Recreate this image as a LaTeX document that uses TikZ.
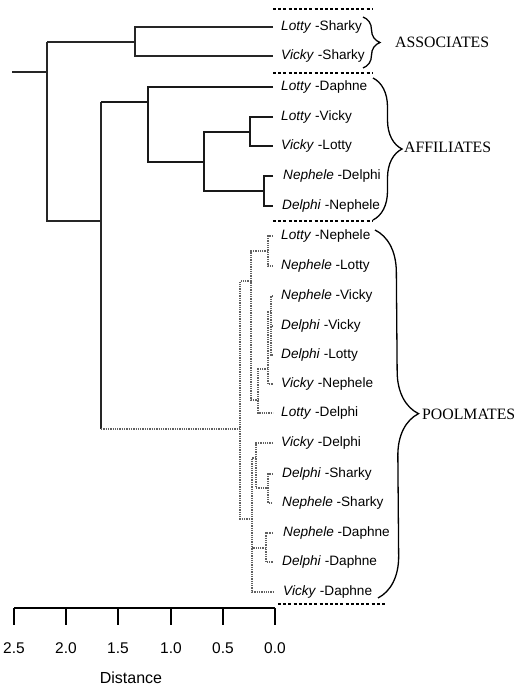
\documentclass[tikz,border=0pt]{standalone}
\usepackage{fontspec}
\setmainfont{Liberation Serif}
\newfontfamily\labfont{Liberation Sans}
\usetikzlibrary{decorations.pathreplacing}
\begin{document}
\begin{tikzpicture}[x=1pt,y=-1pt,
  rootline/.style={line width=1.3pt, black!85},
  assocline/.style={line width=2pt, black!85},
  affline/.style={line width=2.6pt, black!90},
  poolline/.style={line width=1.3pt, black!62, densely dotted},
  sepline/.style={line width=1.1pt, black, dash pattern=on 3pt off 2.2pt},
  pair/.style={anchor=west, inner sep=0pt, font=\labfont\fontsize{13.6}{15}\selectfont},
  grouplab/.style={anchor=west, inner sep=0pt, font=\fontsize{15.8}{18}\selectfont},
  bracedeco/.style={decorate, decoration={brace, amplitude=#1}, line width=1.3pt},
  axtick/.style={line width=1.3pt},
  ticklab/.style={inner sep=0pt, font=\labfont\fontsize{15.5}{17}\selectfont}
]
\useasboundingbox (0,0) rectangle (521,687);

% leaf ends
\coordinate (t1) at (273,27);
\coordinate (t2) at (273,56);
\coordinate (t3) at (273,87);
\coordinate (t4) at (273,117);
\coordinate (t5) at (273,146);
\coordinate (t6) at (273,176);
\coordinate (t7) at (273,206);
\coordinate (t8) at (273,236);
\coordinate (t9) at (273,266);
\coordinate (t10) at (273,296);
\coordinate (t11) at (273,326);
\coordinate (t12) at (273,355);
\coordinate (t13) at (273,384);
\coordinate (t14) at (273,413);
\coordinate (t15) at (273,443);
\coordinate (t16) at (273,474);
\coordinate (t17) at (273,503);
\coordinate (t18) at (273,533);
\coordinate (t19) at (273,562);
\coordinate (t20) at (273,592);

% labels
\node[pair] (l1) at (281,27) {\textit{Lotty} -Sharky};
\node[pair] (l2) at (281,56) {\textit{Vicky} -Sharky};
\node[pair] (l3) at (281,87) {\textit{Lotty} -Daphne};
\node[pair] (l4) at (281,117) {\textit{Lotty} -Vicky};
\node[pair] (l5) at (281,146) {\textit{Vicky} -Lotty};
\node[pair] (l6) at (283,176) {\textit{Nephele} -Delphi};
\node[pair] (l7) at (282,206) {\textit{Delphi} -Nephele};
\node[pair] (l8) at (281,236) {\textit{Lotty} -Nephele};
\node[pair] (l9) at (281,266) {\textit{Nephele} -Lotty};
\node[pair] (l10) at (281,296) {\textit{Nephele} -Vicky};
\node[pair] (l11) at (281,326) {\textit{Delphi} -Vicky};
\node[pair] (l12) at (281,355) {\textit{Delphi} -Lotty};
\node[pair] (l13) at (281,384) {\textit{Vicky} -Nephele};
\node[pair] (l14) at (281,413) {\textit{Lotty} -Delphi};
\node[pair] (l15) at (281,443) {\textit{Vicky} -Delphi};
\node[pair] (l16) at (282,474) {\textit{Delphi} -Sharky};
\node[pair] (l17) at (282,503) {\textit{Nephele} -Sharky};
\node[pair] (l18) at (283,533) {\textit{Nephele} -Daphne};
\node[pair] (l19) at (282,562) {\textit{Delphi} -Daphne};
\node[pair] (l20) at (283,592) {\textit{Vicky} -Daphne};

% junctions
\coordinate (S) at (12,72);
\coordinate (R) at (47,72);
\coordinate (A) at (135,42);
\coordinate (B) at (101,221);
\coordinate (F) at (148,102);
\coordinate (F2) at (204,162);
\coordinate (F3) at (250,132);
\coordinate (F4) at (264,191);
\coordinate (P) at (240,429);
\coordinate (P1) at (251,281);
\coordinate (P11) at (268,251);
\coordinate (P12) at (258,400);
\coordinate (P121) at (268,369);
\coordinate (P1211) at (271,312);
\coordinate (P2) at (252,519);
\coordinate (P21) at (256,458);
\coordinate (P211) at (268,488);
\coordinate (P22) at (266,548);

% root
\draw[rootline] (S) -- (R);
\draw[rootline] (A -| R) -- (B -| R) -- (B);
\draw[assocline] (A -| R) -- (A);
% associates
\draw[assocline] (t1) -| (A) |- (t2);
% affiliates / poolmates split
\draw[rootline] (F -| B) -- (B |- P);
\draw[affline] (F -| B) -- (F);
\draw[poolline] (B |- P) -- (P);
% affiliates
\draw[affline] (t3) -| (F) |- (F2);
\draw[affline] (F3) -| (F2) |- (F4);
\draw[affline] (t4) -| (F3) |- (t5);
\draw[affline] (t6) -| (F4) |- (t7);
% poolmates
\draw[poolline] (P1) -| (P) |- (P2);
\draw[poolline] (P11) -| (P1) |- (P12);
\draw[poolline] (t8) -| (P11) |- (t9);
\draw[poolline] (P121) -| (P12) |- (t14);
\draw[poolline] (P1211) -| (P121) |- (t13);
\draw[poolline] (t10) -| (P1211) |- (t12);
\draw[poolline] (t11) -- (t11 -| P1211);
\draw[poolline] (P21) -| (P2) |- (t20);
\draw[poolline] (P22) -- (P22 -| P2);
\draw[poolline] (t15) -| (P21) |- (P211);
\draw[poolline] (t16) -| (P211) |- (t17);
\draw[poolline] (t18) -| (P22) |- (t19);

% separators
\coordinate (s1a) at (273,9);   \coordinate (s1b) at (373,9);
\coordinate (s2a) at (273,73);  \coordinate (s2b) at (373,73);
\coordinate (s3a) at (273,221); \coordinate (s3b) at (373,221);
\coordinate (s4a) at (278,604); \coordinate (s4b) at (385,604);
\draw[sepline] (s1a) -- (s1b);
\draw[sepline] (s2a) -- (s2b);
\draw[sepline] (s3a) -- (s3b);
\draw[sepline] (s4a) -- (s4b);

% braces
\coordinate (b1a) at (363,17);  \coordinate (b1b) at (363,68);
\coordinate (b2a) at (373,78);  \coordinate (b2b) at (373,220);
\coordinate (b3a) at (375,230); \coordinate (b3b) at (378,598);
\draw[bracedeco=17] (b1a) -- (b1b);
\draw[bracedeco=29] (b2a) -- (b2b);
\draw[bracedeco=42] (b3a) -- (b3b);

\node[grouplab] (g1) at (395,42) {ASSOCIATES};
\node[grouplab] (g2) at (404,147) {AFFILIATES};
\node[grouplab] (g3) at (422,414) {POOLMATES};

% axis
\coordinate (ax0) at (14,608);
\coordinate (ax1) at (275,608);
\draw[axtick] (ax0) -- (ax1);
\foreach \x/\l [count=\i] in {14/2.5, 66/2.0, 118/1.5, 171/1.0, 223/0.5, 275/0.0} {
  \draw[axtick] (\x,608) -- (\x,625);
  \node[ticklab] (tl\i) at (\x,648) {\l};
}
\node[ticklab, font=\labfont\fontsize{16}{18}\selectfont] (dist) at (131,678) {Distance};
\end{tikzpicture}
\end{document}
